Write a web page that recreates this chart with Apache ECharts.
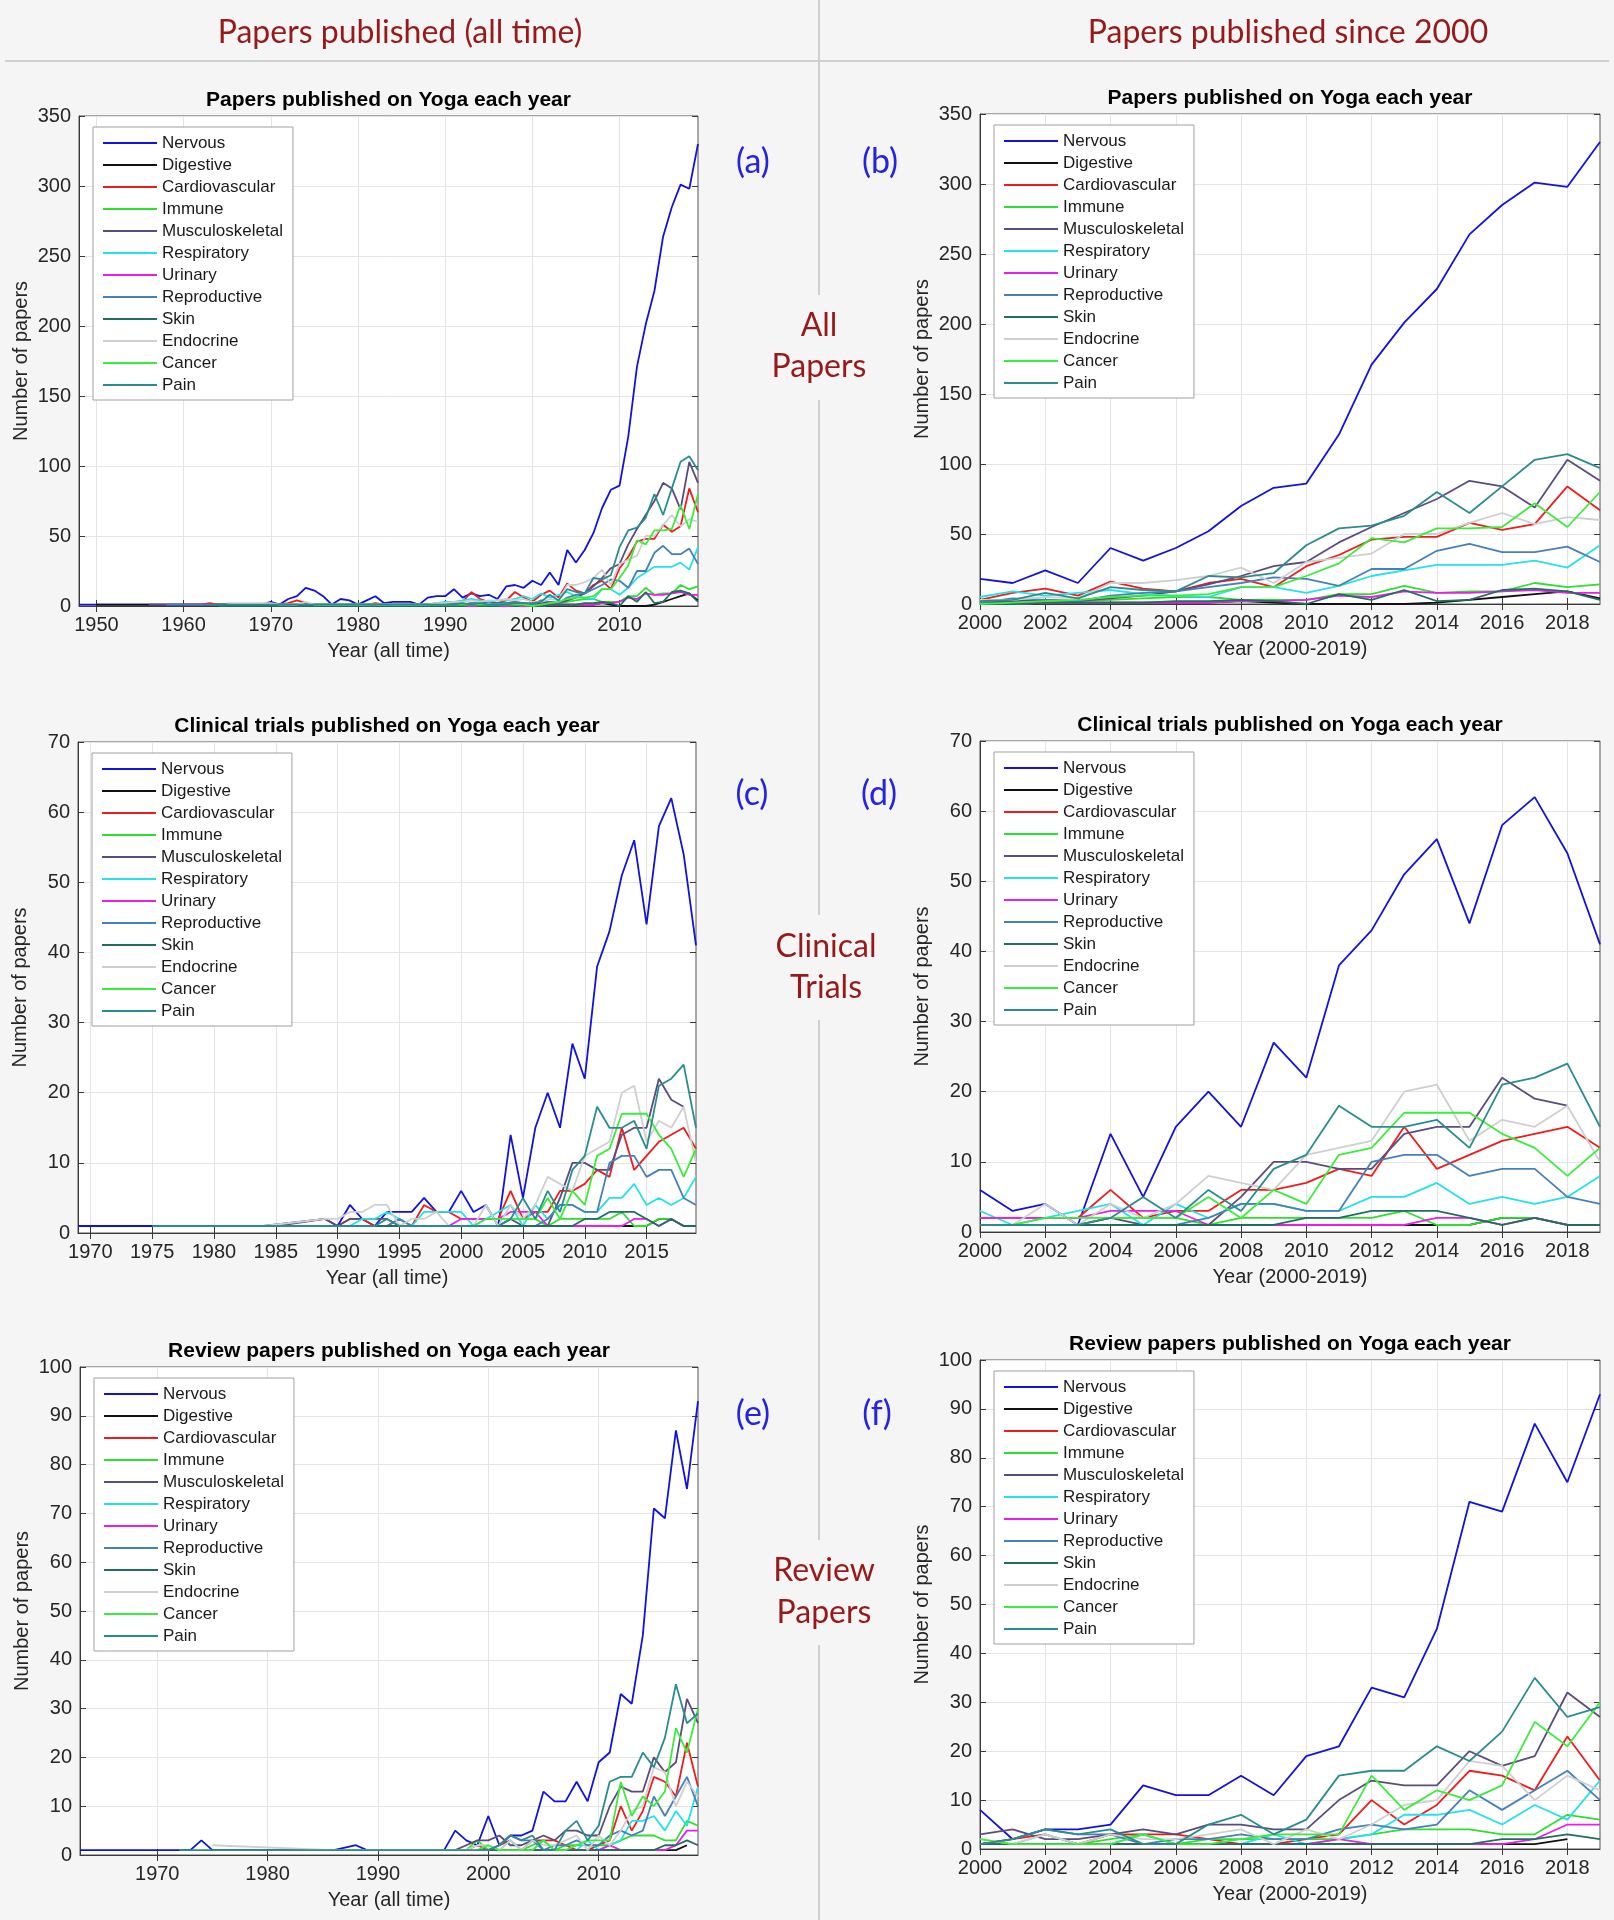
<!DOCTYPE html>
<html>
<head>
<meta charset="utf-8">
<script src="https://cdn.jsdelivr.net/npm/echarts@6/dist/echarts.min.js"></script>
<style>
html,body{margin:0;padding:0;background:#f5f5f5;}
#chart{width:1614px;height:1920px;}
</style>
</head>
<body>
<div id="chart"></div>
<script>
const _ = null;

const SERIES_NAMES = ['Nervous','Digestive','Cardiovascular','Immune','Musculoskeletal','Respiratory','Urinary','Reproductive','Skin','Endocrine','Cancer','Pain'];
const SERIES_COLORS = ['#1212dc','#111111','#ee1c1c','#2ee02e','#5a4c7e','#22e2ea','#ea1ee8','#4680b8','#216e60','#cfcfcf','#3cec3c','#2a8c8e'];

const X_TICKS_ALL = [1950,1960,1970,1980,1990,2000,2010];
const X_TICKS_CLIN = [1970,1975,1980,1985,1990,1995,2000,2005,2010,2015];
const X_TICKS_REV = [1970,1980,1990,2000,2010];
const X_TICKS_RECENT = [2000,2002,2004,2006,2008,2010,2012,2014,2016,2018];

// ===== All papers, 1948-2019 =====
const ALL_NERVOUS = [
 1,1,1,1,1,1,1,1,1,1,
 1,1,1,1,1,1,1,1,1,1,
 1,1,3,1,5,7,13,11,7,1,
 5,4,1,4,7,2,3,3,3,1,
 6,7,7,12,6,9,7,8,5,14,
 15,13,
 18,15,24,15,40,31,40,52,70,83,86,121,171,201,225,264,285,301,298,330];
const ALL_DIGESTIVE = [
 _,_,1,1,1,1,1,1,1,1,
 1,1,1,1,1,1,1,1,1,1,
 1,1,1,1,1,1,1,1,1,1,
 1,1,1,1,1,1,1,1,1,1,
 1,1,1,1,1,1,1,1,1,1,
 1,1,
 1,1,1,1,1,1,1,1,2,1,0,0,0,0,1,3,5,7,9,4];
const ALL_CARDIO = [
 _,_,_,_,_,_,_,_,_,_,
 _,_,1,1,1,2,1,1,1,1,
 1,1,1,1,2,4,2,1,1,1,
 1,1,1,1,2,1,1,1,1,1,
 1,1,1,2,3,10,5,3,2,4,
 10,6,
 3,8,11,6,16,11,9,15,18,12,27,35,46,48,48,58,53,57,84,67];
const ALL_IMMUNE = [
 _,_,_,_,_,_,_,_,_,_,
 _,_,_,_,_,_,_,_,_,_,
 _,_,0,0,0,0,0,0,0,0,
 0,0,0,0,0,0,0,0,0,0,
 0,0,0,0,0,0,0,0,0,0,
 0,0,
 0,0,1,2,3,4,5,5,3,3,3,7,7,13,8,9,9,15,12,14];
const ALL_MUSCULO = [
 _,_,_,_,_,_,_,_,1,1,
 1,1,1,1,1,1,1,1,1,1,
 1,1,1,1,1,1,1,1,1,1,
 1,1,1,1,1,1,1,1,1,1,
 1,2,2,2,1,2,2,3,2,2,
 3,2,
 1,2,3,2,4,6,9,14,20,27,30,44,55,65,75,88,84,69,103,88];
const ALL_RESP = [
 _,_,_,_,_,_,_,_,_,_,
 _,_,_,_,_,_,_,_,1,1,
 1,1,1,1,1,1,1,1,1,1,
 1,1,1,1,1,1,1,1,1,1,
 1,2,3,3,4,5,4,3,4,4,
 5,7,
 5,9,6,8,10,7,6,5,12,12,8,13,20,24,28,28,28,31,26,42];
const ALL_URINARY = [
 _,_,_,_,_,_,_,_,_,_,
 _,_,_,_,_,_,_,_,_,_,
 _,_,_,_,_,_,_,0,0,0,
 0,0,0,0,0,0,0,0,0,0,
 0,0,0,0,0,0,0,0,0,0,
 0,0,
 0,0,1,1,1,1,1,1,2,2,3,6,5,9,8,8,9,10,8,8];
const ALL_REPRO = [
 _,_,_,_,_,_,_,_,_,_,
 1,1,1,1,1,1,1,1,1,1,
 1,1,1,1,1,1,1,1,1,1,
 1,1,1,1,1,1,1,1,1,1,
 1,1,1,1,1,2,1,1,2,2,
 2,2,
 1,4,3,2,6,8,9,12,15,19,18,13,25,25,38,43,37,37,41,30];
const ALL_SKIN = [
 _,_,_,_,_,_,_,_,_,_,
 _,_,_,_,_,_,0,0,0,0,
 0,0,0,0,0,0,0,0,0,0,
 0,0,0,0,0,0,0,0,0,0,
 0,0,0,0,0,1,0,0,0,1,
 0,1,
 0,0,1,1,1,1,2,2,3,2,0,7,3,10,2,3,10,11,9,3];
const ALL_ENDO = [
 _,_,_,_,_,_,_,_,_,_,
 _,_,_,_,_,_,_,2,2,2,
 2,2,2,1,1,1,3,1,1,1,
 1,1,1,1,1,1,1,1,1,1,
 1,2,2,3,3,4,3,4,4,5,
 4,5,
 3,3,5,4,15,15,17,20,26,15,30,33,36,50,50,58,65,57,62,60];
const ALL_CANCER = [
 _,_,_,_,_,_,_,_,_,_,
 _,_,_,_,_,_,_,_,_,_,
 _,_,_,_,_,_,_,1,1,1,
 1,1,1,1,1,1,1,1,1,1,
 1,1,1,1,1,1,1,1,1,1,
 1,1,
 0,1,2,3,5,6,6,7,12,12,20,29,47,44,54,54,55,72,55,80];
const ALL_PAIN = [
 _,_,_,_,_,_,_,_,_,_,
 _,_,_,_,_,1,1,1,1,1,
 1,1,1,1,1,1,1,1,1,1,
 1,1,1,1,1,1,1,1,1,1,
 1,1,1,1,2,1,2,1,1,1,
 2,2,
 2,3,8,4,12,10,9,20,19,22,42,54,56,63,80,65,84,103,107,97];

// ===== Clinical trials, 1969-2019 =====
const CLIN_NERVOUS = [
 1,
 _,_,_,_,_,_,_,_,_,_,
 _,_,_,_,1,_,_,_,_,2,
 1,4,2,1,3,3,3,5,3,3,
 6,3,4,1,14,5,15,20,15,27,22,38,43,51,56,44,58,62,54,41];
const CLIN_DIGESTIVE = [
 _,
 _,_,_,_,_,_,_,_,_,_,
 _,_,_,_,_,_,_,_,_,_,
 1,1,1,1,1,1,1,1,1,1,
 1,1,1,1,1,1,1,1,1,1,1,1,1,1,1,1,2,2,1,1];
const CLIN_CARDIO = [
 _,
 _,_,_,_,_,_,_,_,_,_,
 _,_,_,_,_,_,_,_,_,1,
 1,2,2,1,1,2,1,4,3,3,
 2,2,2,2,6,2,3,3,6,6,7,9,8,15,9,11,13,14,15,12];
const CLIN_IMMUNE = [
 _,
 _,_,_,_,_,_,_,_,_,_,
 _,_,_,_,_,_,_,_,_,_,
 1,1,1,1,1,1,1,1,1,1,
 1,1,1,1,2,2,2,1,2,2,2,2,2,3,1,1,2,2,1,1];
const CLIN_MUSCULO = [
 _,
 _,_,_,_,_,_,_,_,_,_,
 _,_,_,_,_,1,_,_,_,2,
 1,2,2,2,2,1,1,1,1,1,
 1,1,1,1,2,1,1,1,5,10,10,9,9,14,15,15,22,19,18,_];
const CLIN_RESP = [
 _,
 _,_,_,_,_,_,_,_,_,_,
 _,_,_,_,_,_,_,_,_,_,
 1,1,2,2,3,2,1,3,3,3,
 3,1,2,3,4,1,4,2,4,4,3,3,5,5,7,4,5,4,5,8];
const CLIN_URINARY = [
 _,
 _,_,_,_,_,_,_,_,_,_,
 _,_,_,_,_,_,_,_,_,_,
 _,_,_,_,_,_,_,_,1,1,
 2,2,2,2,3,3,3,1,1,1,1,1,1,1,2,2,1,2,1,1];
const CLIN_REPRO = [
 _,
 _,_,_,_,_,_,_,_,_,_,
 _,_,_,_,_,_,_,1,1,1,
 1,1,1,1,1,2,1,1,1,1,
 1,1,1,1,1,1,1,2,4,4,3,3,10,11,11,8,9,9,5,4];
const CLIN_SKIN = [
 _,
 _,_,_,_,_,_,_,_,_,_,
 _,_,_,_,_,_,_,_,_,_,
 _,_,_,1,1,1,1,1,1,1,
 1,1,1,1,1,1,1,1,1,1,2,2,3,3,3,2,1,2,1,1];
const CLIN_ENDO = [
 _,
 _,_,_,_,_,_,_,_,_,_,
 _,_,_,_,1,_,_,_,_,2,
 2,3,3,4,4,1,2,2,3,1,
 1,1,4,1,4,2,4,8,7,6,11,12,13,20,21,13,16,15,18,10];
const CLIN_CANCER = [
 _,
 _,_,_,_,_,_,_,_,_,_,
 _,_,_,_,_,_,_,_,_,_,
 _,_,_,_,_,1,1,1,1,1,
 1,1,2,2,2,2,2,5,2,6,4,11,12,17,17,17,14,12,8,12];
const CLIN_PAIN = [
 _,
 _,_,_,_,_,1,_,_,_,_,
 _,_,_,_,1,_,_,_,_,_,
 1,1,1,1,2,1,1,1,1,1,
 1,1,1,1,2,5,2,6,3,9,11,18,15,15,16,12,21,22,24,15];

// ===== Review papers, 1963-2019 =====
const REV_NERVOUS = [
 1,_,_,_,_,_,_,
 _,_,_,1,3,1,_,_,_,_,
 _,_,_,_,_,_,1,_,2,1,
 _,_,_,_,_,_,1,5,3,2,
 8,2,4,4,5,13,11,11,15,11,19,21,33,31,45,71,69,87,75,93];
const REV_DIGESTIVE = [
 _,_,_,_,_,_,_,
 _,_,_,_,_,_,_,_,_,_,
 _,_,_,_,_,_,_,_,_,_,
 _,_,_,_,_,_,_,_,_,_,
 _,_,_,_,1,1,1,1,1,1,1,1,1,1,1,1,1,1,2,_];
const REV_CARDIO = [
 _,_,_,_,_,_,_,
 _,_,_,_,_,_,_,_,_,_,
 _,_,_,_,_,_,_,_,_,_,
 _,_,_,_,_,_,_,_,1,2,
 1,2,3,1,3,3,3,2,1,1,2,3,10,5,9,16,15,12,23,14];
const REV_IMMUNE = [
 _,_,_,_,_,_,_,
 _,_,_,_,_,_,_,_,_,_,
 _,_,_,_,_,_,_,_,_,_,
 _,_,_,_,_,_,_,_,1,3,
 1,1,1,1,2,3,1,2,2,2,2,2,3,4,4,4,3,3,7,6];
const REV_MUSCULO = [
 _,_,_,_,_,_,_,
 _,_,_,_,_,_,_,_,_,_,
 _,_,_,_,_,_,_,_,_,_,
 _,_,_,_,_,_,_,1,2,3,
 3,4,2,2,3,4,3,5,5,4,4,10,14,13,13,20,17,19,32,27];
const REV_RESP = [
 _,_,_,_,_,_,_,
 _,_,_,_,_,_,_,_,_,_,
 _,_,_,_,_,_,_,_,_,_,
 _,_,_,_,_,_,_,_,_,1,
 1,1,3,1,1,3,1,1,1,3,1,2,3,7,7,8,5,9,6,14];
const REV_URINARY = [
 _,_,_,_,_,_,_,
 _,_,_,_,_,_,_,_,_,_,
 _,_,_,_,_,_,_,_,_,_,
 _,_,_,_,_,_,_,_,_,1,
 1,1,1,1,1,1,1,1,1,1,1,2,1,1,1,1,1,2,5,5];
const REV_REPRO = [
 _,_,_,_,_,_,_,
 _,_,_,_,_,_,_,_,_,_,
 _,_,_,_,_,_,_,_,_,_,
 _,_,_,_,_,_,_,_,_,1,
 1,2,4,3,3,1,2,2,3,2,2,4,5,4,5,12,8,12,16,10];
const REV_SKIN = [
 _,_,_,_,_,_,_,
 _,_,_,_,_,_,_,_,_,_,
 _,_,_,_,_,_,_,_,_,_,
 _,_,_,_,_,_,_,_,_,1,
 1,1,1,1,1,1,1,1,1,1,1,1,1,1,1,1,2,2,3,2];
const REV_ENDO = [
 _,_,_,_,_,_,_,
 _,_,_,_,_,2,_,_,_,_,
 _,_,_,_,_,_,1,_,_,_,
 _,_,_,_,_,_,_,1,1,2,
 2,1,3,1,3,2,2,3,4,1,4,2,5,9,10,18,17,10,15,12];
const REV_CANCER = [
 _,_,_,_,_,_,_,
 _,_,_,_,_,_,_,_,_,_,
 _,_,_,_,_,_,_,_,_,_,
 _,_,_,_,_,_,_,_,_,1,
 2,1,1,1,1,3,1,1,2,3,3,3,15,8,12,10,13,26,21,30];
const REV_PAIN = [
 _,_,_,_,_,_,_,
 _,_,1,_,_,_,_,_,_,_,
 _,_,_,_,_,_,_,_,_,1,
 _,_,_,_,_,_,1,1,1,1,
 1,2,4,3,4,1,1,5,7,3,6,15,16,16,21,18,24,35,27,29];

const DATASETS = {
  all:  { start: 1948, series: [ALL_NERVOUS, ALL_DIGESTIVE, ALL_CARDIO, ALL_IMMUNE, ALL_MUSCULO, ALL_RESP, ALL_URINARY, ALL_REPRO, ALL_SKIN, ALL_ENDO, ALL_CANCER, ALL_PAIN] },
  clin: { start: 1969, series: [CLIN_NERVOUS, CLIN_DIGESTIVE, CLIN_CARDIO, CLIN_IMMUNE, CLIN_MUSCULO, CLIN_RESP, CLIN_URINARY, CLIN_REPRO, CLIN_SKIN, CLIN_ENDO, CLIN_CANCER, CLIN_PAIN] },
  rev:  { start: 1963, series: [REV_NERVOUS, REV_DIGESTIVE, REV_CARDIO, REV_IMMUNE, REV_MUSCULO, REV_RESP, REV_URINARY, REV_REPRO, REV_SKIN, REV_ENDO, REV_CANCER, REV_PAIN] }
};

// ===== layout =====
const PANELS = [
  { ds:'all',  from:1948, left:79,  top:116,  width:619, height:490, yMax:350, yStep:50, ticks:X_TICKS_ALL,    split:7,  title:'Papers published on Yoga each year', xName:'Year (all time)' },
  { ds:'all',  from:2000, left:980, top:114,  width:620, height:490, yMax:350, yStep:50, ticks:X_TICKS_RECENT, split:10, title:'Papers published on Yoga each year', xName:'Year (2000-2019)' },
  { ds:'clin', from:1969, left:78,  top:742,  width:618, height:491, yMax:70,  yStep:10, ticks:X_TICKS_CLIN,   split:10, title:'Clinical trials published on Yoga each year', xName:'Year (all time)' },
  { ds:'clin', from:2000, left:980, top:741,  width:620, height:491, yMax:70,  yStep:10, ticks:X_TICKS_RECENT, split:10, title:'Clinical trials published on Yoga each year', xName:'Year (2000-2019)' },
  { ds:'rev',  from:1963, left:80,  top:1367, width:618, height:488, yMax:100, yStep:10, ticks:X_TICKS_REV,    split:6,  title:'Review papers published on Yoga each year', xName:'Year (all time)' },
  { ds:'rev',  from:2000, left:980, top:1360, width:620, height:489, yMax:100, yStep:10, ticks:X_TICKS_RECENT, split:10, title:'Review papers published on Yoga each year', xName:'Year (2000-2019)' }
];
const X_END = 2019;
const N = PANELS.length;

const FONT = 'Liberation Sans, Arial, Helvetica, sans-serif';
const AX = '#3a3a3a';

const grid = [], xAxis = [], yAxis = [], legend = [], series = [], graphic = [];

PANELS.forEach((p, g) => {
  grid.push({ left:p.left, top:p.top, width:p.width, height:p.height, show:true, backgroundColor:'#ffffff', borderColor:'#555', borderWidth:1, containLabel:false, outerBoundsMode:'none' });
  const tickSet = p.ticks;
  xAxis.push({
    type:'value', gridIndex:g, min:p.from, max:X_END, splitNumber:p.split, position:'bottom',
    axisLine:{ show:true, onZero:false, lineStyle:{ color:AX, width:1 } },
    axisTick:{ show:true, inside:true, length:6, customValues:tickSet, lineStyle:{ color:AX } },
    axisLabel:{ show:true, customValues:tickSet, margin:9, color:'#262626', fontSize:20, fontFamily:FONT,
      formatter:(v) => tickSet.indexOf(v) >= 0 ? String(v) : '' },
    splitLine:{ show:true, lineStyle:{ color:'#e4e4e4', width:1 } },
    name:p.xName, nameLocation:'middle', nameGap:35,
    nameTextStyle:{ color:'#262626', fontSize:20, fontFamily:FONT }
  });
  yAxis.push({
    type:'value', gridIndex:g, min:0, max:p.yMax, interval:p.yStep, position:'left',
    axisLine:{ show:true, onZero:false, lineStyle:{ color:AX, width:1 } },
    axisTick:{ show:true, inside:true, length:6, lineStyle:{ color:AX } },
    axisLabel:{ show:true, margin:8, color:'#262626', fontSize:20, fontFamily:FONT, formatter:(v) => String(v) },
    splitLine:{ show:true, lineStyle:{ color:'#e4e4e4', width:1 } },
    name:'Number of papers', nameLocation:'middle', nameGap:48,
    nameTextStyle:{ color:'#262626', fontSize:20, fontFamily:FONT }
  });
  legend.push({
    left:p.left + 14, top:p.top + 11, orient:'vertical', data:SERIES_NAMES,
    icon:'rect', itemWidth:54, itemHeight:2, itemGap:0, selectedMode:false,
    textStyle:{ fontSize:17, fontFamily:FONT, color:'#1a1a1a', lineHeight:22 },
    backgroundColor:'#ffffff', borderColor:'#a0a0a0', borderWidth:1, borderRadius:0, padding:[5,10,4,10]
  });
  const ds = DATASETS[p.ds];
  ds.series.forEach((arr, i) => {
    const pts = [];
    arr.forEach((v, k) => {
      const yr = ds.start + k;
      if (yr >= p.from && v !== null) pts.push([yr, v]);
    });
    series.push({
      type:'line', name:SERIES_NAMES[i], xAxisIndex:g, yAxisIndex:g, data:pts,
      showSymbol:false, symbol:'none', silent:true, animation:false, connectNulls:true,
      color:SERIES_COLORS[i], itemStyle:{ color:SERIES_COLORS[i] },
      lineStyle:{ color:SERIES_COLORS[i], width:1.8 }
    });
  });
  graphic.push({ type:'text', x:p.left + p.width/2, y:p.top - 16, z:10,
    style:{ text:p.title, fill:'#000', fontSize:21, fontWeight:'bold', fontFamily:FONT,
      align:'center', verticalAlign:'middle', textAlign:'center', textVerticalAlign:'middle' } });
});

// mirror axes (top / right ticks)
PANELS.forEach((p, g) => {
  xAxis.push({
    type:'value', gridIndex:g, min:p.from, max:X_END, splitNumber:p.split, position:'top',
    axisLine:{ show:false }, axisLabel:{ show:false }, splitLine:{ show:false },
    axisTick:{ show:true, inside:true, length:6, customValues:p.ticks, lineStyle:{ color:AX } }
  });
  yAxis.push({
    type:'value', gridIndex:g, min:0, max:p.yMax, interval:p.yStep, position:'right',
    axisLine:{ show:false }, axisLabel:{ show:false }, splitLine:{ show:false },
    axisTick:{ show:true, inside:true, length:6, lineStyle:{ color:AX } }
  });
});

// decorations
const RED = '#961a1a', BLUE = '#2424e0', HEAD_FONT = 'Lato, "Open Sans", sans-serif';
function txt(x, y, text, size, color) {
  return { type:'text', x:x, y:y, z:10,
    style:{ text:text, fill:color, fontSize:size, fontFamily:HEAD_FONT,
      align:'center', verticalAlign:'middle', textAlign:'center', textVerticalAlign:'middle' } };
}
function ln(x1, y1, x2, y2) {
  return { type:'line', z:1, shape:{ x1:x1, y1:y1, x2:x2, y2:y2 }, style:{ stroke:'#cfcfcf', lineWidth:2 } };
}
graphic.push(ln(5, 61, 1609, 61));
[[0,295],[400,915],[1020,1540],[1645,1920]].forEach(s => graphic.push(ln(819, s[0], 819, s[1])));
graphic.push(txt(400, 33, 'Papers published (all time)', 32, RED));
graphic.push(txt(1288, 33, 'Papers published since 2000', 32, RED));
graphic.push(txt(819, 326, 'All', 32, RED));
graphic.push(txt(819, 367, 'Papers', 32, RED));
graphic.push(txt(826, 947, 'Clinical', 32, RED));
graphic.push(txt(826, 988, 'Trials', 32, RED));
graphic.push(txt(824, 1571, 'Review', 32, RED));
graphic.push(txt(824, 1613, 'Papers', 32, RED));
graphic.push(txt(753, 162, '(a)', 34, BLUE));
graphic.push(txt(880, 162, '(b)', 34, BLUE));
graphic.push(txt(752, 794, '(c)', 34, BLUE));
graphic.push(txt(879, 794, '(d)', 34, BLUE));
graphic.push(txt(753, 1414, '(e)', 34, BLUE));
graphic.push(txt(877, 1414, '(f)', 34, BLUE));

const chart = echarts.init(document.getElementById('chart'), null, { width:1614, height:1920, renderer:'canvas' });
chart.setOption({
  backgroundColor:'#f5f5f5',
  animation:false,
  textStyle:{ fontFamily:FONT },
  grid, xAxis, yAxis, legend, series, graphic
});
</script>
</body>
</html>
